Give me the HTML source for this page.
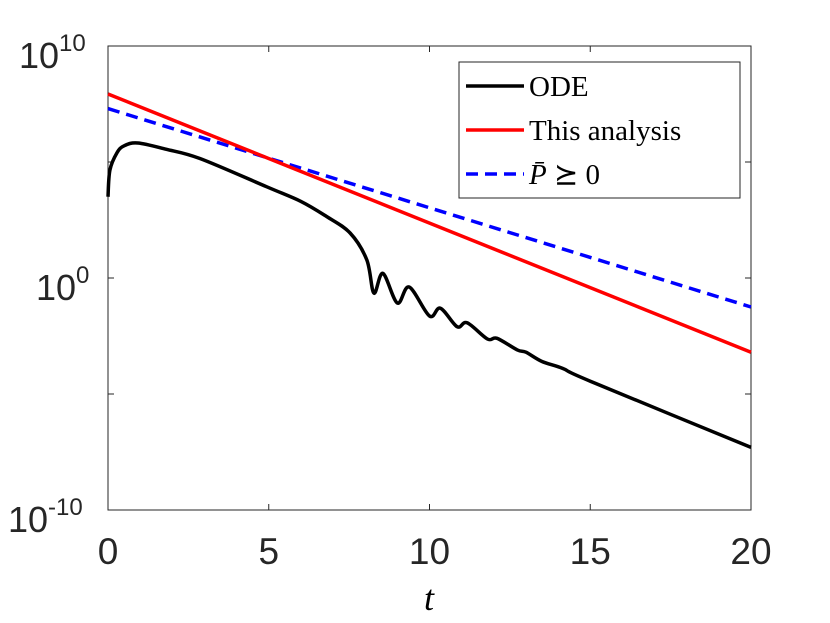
<!DOCTYPE html>
<html><head><meta charset="utf-8"><style>
body{margin:0;background:#fff}
svg{display:block}
text{font-family:"Liberation Sans",sans-serif;fill:#262626}
.serif{font-family:"Liberation Serif",serif;fill:#000}
</style></head><body>
<svg id="chart" width="830" height="623" viewBox="0 0 830 623">
<g id="axes"></g>
<g id="series"></g>
<g id="legend">
<rect x="459" y="62" width="281" height="136" fill="#fff" stroke="#262626" stroke-width="1"/>
<line x1="466" y1="86" x2="524" y2="86" stroke="#000" stroke-width="3.5"/>
<text class="serif" x="529" y="96" font-size="29">ODE</text>
<line x1="466" y1="130" x2="524" y2="130" stroke="#f00" stroke-width="3.5"/>
<text class="serif" x="529" y="140" font-size="29">This analysis</text>
<line x1="466" y1="174" x2="524" y2="174" stroke="#00f" stroke-width="3.5" stroke-dasharray="12,7"/>
<text class="serif" x="529" y="184" font-size="29"><tspan font-style="italic">P̄</tspan> ⪰ 0</text>
</g>
</svg>
<script>
const xTicks=[0,5,10,15,20];
const yTicks=[10,5,0,-5,-10];
const odeT=[0,0.06,0.28,0.5,0.93,1.8,2.86,4.94,6.0,6.8,7.53,8.05,8.27,8.55,9.0,9.37,10.0,10.34,10.86,11.17,11.8,12.1,12.73,13.0,13.5,14.15,15,20];
const odeLog=[3.5,4.65,5.4,5.7,5.82,5.55,5.15,3.93,3.3,2.65,1.94,0.78,-0.65,0.2,-1.08,-0.39,-1.64,-1.3,-2.1,-1.93,-2.63,-2.6,-3.1,-3.2,-3.6,-3.9,-4.45,-7.3];
const analysisT=[0,20];
const analysisLog=[7.93,-3.2];
const pbarT=[0,20];
const pbarLog=[7.3,-1.25];
const X=t=>108+(t/20)*643;
const Y=l=>278-l*23.2;
const NS="http://www.w3.org/2000/svg";
const ax=document.getElementById('axes'),se=document.getElementById('series');
function mk(tag,at,p){const e=document.createElementNS(NS,tag);for(const k in at)e.setAttribute(k,at[k]);p.appendChild(e);return e;}
const box=mk('rect',{x:108,y:Y(10),width:643,height:Y(-10)-Y(10),fill:'none',stroke:'#262626','stroke-width':1},ax);


xTicks.forEach(t=>{
 const l=mk('line',{x1:X(t),x2:X(t),y1:Y(-10),y2:Y(-10)-6,stroke:'#262626'},ax);
 
 
 const l2=mk('line',{x1:X(t),x2:X(t),y1:Y(10),y2:Y(10)+6,stroke:'#262626'},ax);
 
 
 const tx=mk('text',{x:X(t),y:564,'text-anchor':'middle','font-size':37},ax);
 tx.textContent=t;
 
 
});
const labelPos={'10':[19,68],'0':[36,300],'-10':[8,532]};
yTicks.forEach(v=>{
 const l=mk('line',{x1:108,x2:114,y1:Y(v),y2:Y(v),stroke:'#262626'},ax);
 
 
 const l2=mk('line',{x1:751,x2:745,y1:Y(v),y2:Y(v),stroke:'#262626'},ax);
 
 
 const p=labelPos[String(v)];
 if(p){
  const tx=mk('text',{x:p[0],y:p[1],'font-size':36},ax);
  
  
  const base=mk('tspan',{},tx);base.textContent='10';
  const sup=mk('tspan',{dy:-17,'font-size':24},tx);sup.textContent=String(v);
 }
});
const xl=mk('text',{x:429,y:610,'text-anchor':'middle','font-size':36,'font-style':'italic',class:'serif'},ax);
xl.textContent='t';


function path(T,L){return T.map((t,i)=>(i?'L':'M')+X(t).toFixed(1)+','+Y(L[i]).toFixed(1)).join(' ');}
function smooth(T,L){
 const P=T.map((t,i)=>[X(t),Y(L[i])]);
 let d='M'+P[0][0].toFixed(1)+','+P[0][1].toFixed(1);
 for(let i=0;i<P.length-1;i++){
  const p0=P[Math.max(0,i-1)],p1=P[i],p2=P[i+1],p3=P[Math.min(P.length-1,i+2)];
  const c1=[p1[0]+(p2[0]-p0[0])/6,p1[1]+(p2[1]-p0[1])/6];
  const c2=[p2[0]-(p3[0]-p1[0])/6,p2[1]-(p3[1]-p1[1])/6];
  d+=' C'+c1.map(v=>v.toFixed(1)).join(',')+' '+c2.map(v=>v.toFixed(1)).join(',')+' '+p2.map(v=>v.toFixed(1)).join(',');
 }
 return d;
}
const pb=mk('path',{d:path(pbarT,pbarLog),fill:'none',stroke:'#00f','stroke-width':3.5,'stroke-dasharray':'12,7'},se);


const an=mk('path',{d:path(analysisT,analysisLog),fill:'none',stroke:'#f00','stroke-width':3.5},se);


const od=mk('path',{d:smooth(odeT,odeLog),fill:'none',stroke:'#000','stroke-width':3.5,'stroke-linejoin':'round'},se);


</script>
</body></html>
